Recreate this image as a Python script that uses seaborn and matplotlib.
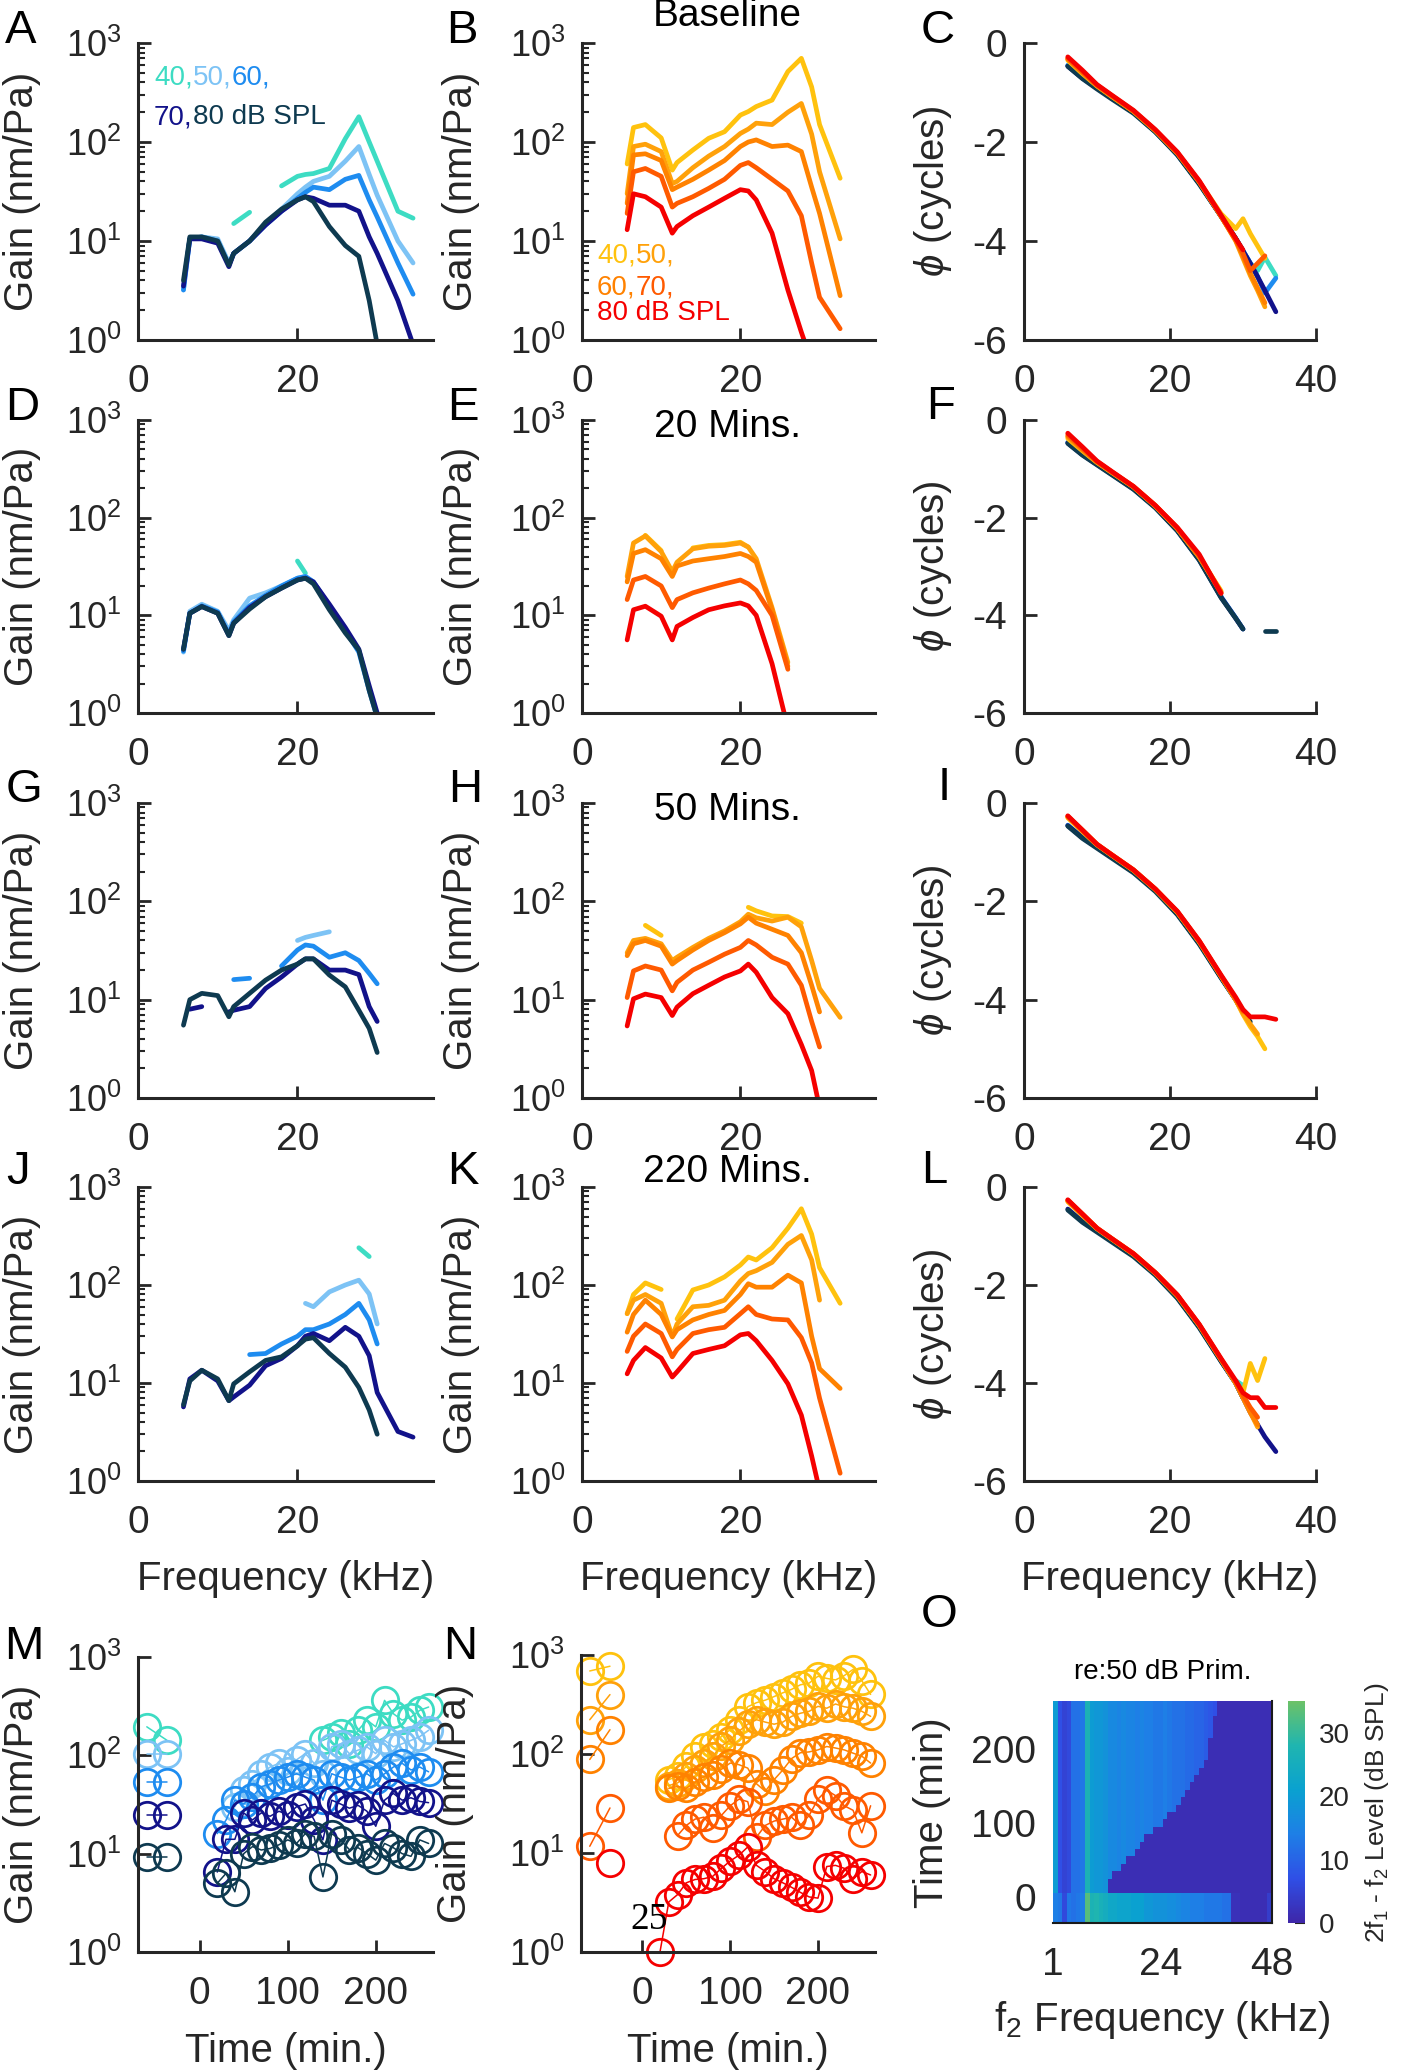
import numpy as np
import pandas as pd
import matplotlib
matplotlib.use("Agg")
import matplotlib.pyplot as plt
import seaborn as sns
from matplotlib.colors import LinearSegmentedColormap
from matplotlib.ticker import FixedLocator, NullFormatter

nan = np.nan

# ---------------------------------------------------------------- data
LEVELS = [40, 50, 60, 70, 80]
BLUES = ["#3ddcc3", "#7dc3f5", "#1e8cf0", "#12128a", "#0e3a50"]
ORANGES = ["#ffc20e", "#ffa10a", "#ff8200", "#ff5a00", "#f50000"]

# frequency grid (kHz) for the gain panels
FREQ = [5.7, 6.5, 8, 10, 11.4, 12, 14, 16, 18, 20, 21, 22, 24, 26, 27.7, 29, 30, 32.6, 34.5]

# A  baseline, low side
A_40 = [nan, nan, nan, nan, nan, 15, 19.5, nan, 36, 45, 47, 48, 54, 108, 180, 100, 64, 20, 17]
A_50 = [3.2, 10.5, 11, 10.5, 6, 7.5, 10, 15, 21, 30, 35, 40, 45, 64, 90, 47, 29, 10, 6]
A_60 = [3.2, 10.5, 11, 10, 5.7, 7.5, 10, 14.5, 20, 27, 31, 35, 33, 42, 46, 26, 17.5, 6, 2.9]
A_70 = [3.5, 10.5, 10.5, 9.5, 5.5, 7.5, 10, 14.5, 20, 26, 28, 27, 23, 23, 20, 11, 7.5, 2.5, 0.9]
A_80 = [4, 11, 11, 10, 5.7, 7.5, 10, 15.5, 21, 26, 28, 25, 14, 9, 7, 2.5, 0.9, nan, nan]
# B  baseline, high side
B_40 = [60, 140, 150, 110, 52, 62, 83, 109, 127, 187, 203, 228, 265, 515, 700, 360, 150, 43, nan]
B_50 = [30, 90, 95, 80, 38, 40, 55, 72, 90, 122, 135, 155, 150, 200, 245, 120, 50, 10.5, nan]
B_60 = [24, 74, 76, 65, 33, 35, 42, 52, 65, 90, 100, 105, 90, 93, 80, 35, 19, 2.8, nan]
B_70 = [19, 50, 54, 45, 22, 24, 28, 34, 42, 58, 62, 55, 42, 32, 18, 6, 2.7, 1.3, nan]
B_80 = [13, 30, 28, 22, 12, 14, 18, 22, 27, 33, 32, 26, 12, 3.2, 1.2, 0.6, nan, nan, nan]
# D  20 min
D_40 = [nan, nan, nan, nan, nan, nan, nan, nan, nan, 36, 27, nan, nan, nan, nan, nan, nan, nan, nan]
D_50 = [4.2, 11, 13, 11, 7, 9, 15, 17, 20, 24, 25, 22, 12.5, 7, nan, nan, nan, nan, nan]
D_60 = [4.3, 10.5, 12.5, 10.8, 6.4, 8.6, 12.5, 16, 20, 24, 25, 22, 12.5, 7, 4.2, 1.7, 0.9, nan, nan]
D_70 = [4.5, 10.5, 12.3, 10.5, 6.2, 8.3, 12, 15.5, 19, 23, 24, 22, 13, 7.5, 4.5, 1.9, 1.0, nan, nan]
D_80 = [4.5, 10.5, 12.3, 10.5, 6.2, 8.3, 11.6, 15.5, 19, 23, 24, 21, 11.4, 6.6, 4.4, 1.7, 0.9, nan, nan]
# E  20 min
E_40 = [nan, nan, 66, 46, nan, nan, 49, 52, 53, 56, 50, nan, nan, nan, nan, nan, nan, nan, nan]
E_50 = [25, 55, 65, 45, 28, 35, 48, 51, 52, 55, 50, 38, 12, 3.3, nan, nan, nan, nan, nan]
E_60 = [22, 43, 47, 38, 25, 32, 36, 38, 40, 43, 40, 35, 11.4, 3.0, nan, nan, nan, nan, nan]
E_70 = [14.5, 23, 25, 20, 12, 14.5, 17, 19, 21, 23, 21, 18, 10, 2.8, nan, nan, nan, nan, nan]
E_80 = [5.6, 11.4, 12.4, 9.8, 5.6, 7.7, 9.5, 11.4, 12.5, 13.4, 12.5, 10, 3.2, 0.7, nan, nan, nan, nan, nan]
# G  50 min
G_40 = [nan] * 19
G_50 = [nan, nan, nan, nan, nan, nan, nan, nan, nan, 40, 43, 45, 49, nan, nan, nan, nan, nan, nan]
G_60 = [nan, nan, nan, nan, nan, 16, 16.5, nan, 22, 32, 36, 35, 27, 30, 25, 18.5, 14.5, nan, nan]
G_70 = [nan, 8, 8.5, nan, 7.5, 7.8, 8.5, 13, 17, 23, 26, 26, 20, 20, 18, 8.5, 6, nan, nan]
G_80 = [5.5, 10, 11.6, 11, 6.7, 8.5, 11.6, 15.8, 20, 23, 26, 26, 17.8, 13.5, 7.8, 5.1, 2.9, nan, nan]
# H  50 min
H_40 = [nan, nan, 57, 45, nan, nan, nan, nan, nan, nan, 87, 80, 71, 70, 60, nan, nan, nan, nan]
H_50 = [30, 40, 42, 37, 25, 27, 34, 42, 50, 62, 74, 68, 63, 69, 55, 25, 13, 6.6, nan]
H_60 = [28, 37, 40, 35, 23, 25, 32, 40, 48, 59, 69, 60, 52, 45, 30, 14, 7.5, nan, nan]
H_70 = [10.5, 19.6, 22, 20, 12.3, 15, 20, 24, 29, 34, 40, 36, 27, 23, 14, 6, 3.3, nan, nan]
H_80 = [5.4, 10.2, 11.4, 10.5, 6.9, 8.4, 11.5, 14, 17, 19.6, 23, 19, 10.5, 7.2, 3.5, 1.9, 0.8, nan, nan]
# J  220 min
J_40 = [nan, nan, nan, nan, nan, nan, nan, nan, nan, nan, nan, nan, nan, nan, 240, 195, nan, nan, nan]
J_50 = [nan, nan, nan, nan, nan, nan, nan, nan, nan, nan, 65, 60, 85, 100, 112, 81, 40, nan, nan]
J_60 = [nan, nan, nan, nan, nan, nan, 19.5, 20, 25, 30, 35, 35, 40, 50, 65, 44, 25, nan, nan]
J_70 = [5.7, 11, 13.5, 10.5, 6.6, 7.2, 9.5, 15, 17.8, 24, 30, 32, 27, 37, 30, 19, 8, 3.2, 2.8]
J_80 = [6, 10.5, 13.5, 11, 6.6, 9.8, 13, 17, 18.5, 24, 28, 29, 20, 14.5, 9, 5.3, 3.0, nan, nan]
# K  220 min
K_40 = [51, 80, 105, 90, nan, 45, 89, 100, 121, 160, 193, 180, 240, 380, 600, 330, 150, 65, nan]
K_50 = [51, 70, 80, 65, 30, 40, 60, 62, 70, 110, 131, 140, 170, 260, 320, 180, 70, nan, nan]
K_60 = [33, 50, 70, 50, 29.5, 35, 44, 50, 55, 80, 103, 95, 95, 126, 105, 30, 14, 8.8, nan]
K_70 = [21, 30, 40, 32, 18.5, 22, 32, 35, 37, 51, 60, 50, 45, 44, 29, 16, 7, 1.2, nan]
K_80 = [12.4, 17, 23, 18, 11.5, 13, 20, 22, 24, 31, 32, 27, 17, 9.8, 4.7, 1.8, 0.8, nan, nan]

# phase grid (kHz) and phase (cycles); *_B = low side (blue), *_O = high side (orange)
P_FREQ = [6, 8, 10, 12, 15, 18, 21, 24, 27, 29, 30, 31, 32, 33, 34.5]
C_B40 = [nan, nan, nan, -1.11, -1.40, -1.79, -2.25, -2.83, -3.5, -3.95, -4.2, -4.45, -4.6, -4.33, -4.7]
C_B50 = [-0.45, -0.7, -0.9, -1.1, -1.4, -1.79, -2.25, -2.83, -3.5, -3.95, -4.2, -4.45, -4.72, nan, nan]
C_B60 = [-0.45, -0.7, -0.9, -1.1, -1.4, -1.79, -2.25, -2.83, -3.5, -3.95, -4.2, -4.45, -4.72, -5.05, -4.75]
C_B70 = [-0.47, -0.71, -0.91, -1.11, -1.40, -1.79, -2.25, -2.83, -3.5, -3.95, -4.2, -4.45, -4.72, -5.0, -5.43]
C_B80 = [-0.47, -0.72, -0.93, -1.13, -1.42, -1.8, -2.26, -2.85, -3.5, -3.95, -4.2, nan, nan, nan, nan]
C_O40 = [-0.35, -0.62, -0.87, -1.08, -1.38, -1.77, -2.22, -2.8, -3.45, -3.75, -3.55, -3.85, -4.1, -4.35, nan]
C_O50 = [-0.33, -0.6, -0.86, -1.07, -1.38, -1.77, -2.22, -2.8, -3.5, -4.0, -4.35, -4.7, -5.0, -5.33, nan]
C_O60 = [-0.32, -0.6, -0.86, -1.07, -1.38, -1.77, -2.22, -2.8, -3.5, -3.98, -4.3, -4.65, -4.95, -5.25, nan]
C_O70 = [-0.31, -0.58, -0.85, -1.06, -1.37, -1.76, -2.22, -2.8, -3.5, -3.98, -4.25, -4.6, -4.45, -4.3, nan]
C_O80 = [-0.28, -0.55, -0.84, -1.05, -1.36, -1.75, -2.2, -2.78, -3.48, -3.95, -4.18, nan, nan, nan, nan]

F_B40 = [nan] * 15
F_B50 = [-0.45, -0.7, -0.9, -1.1, -1.4, -1.78, -2.25, -2.85, -3.6, nan, nan, nan, nan, nan, nan]
F_B60 = [-0.46, -0.7, -0.9, -1.1, -1.4, -1.78, -2.25, -2.85, -3.62, -4.05, -4.28, nan, nan, nan, nan]
F_B70 = [-0.47, -0.71, -0.91, -1.11, -1.41, -1.79, -2.26, -2.86, -3.63, -4.06, -4.28, nan, nan, nan, nan]
F_B80 = [-0.48, -0.72, -0.92, -1.12, -1.42, -1.8, -2.27, -2.87, -3.64, -4.06, -4.28, nan, nan, -4.32, -4.32]
F_O40 = [-0.38, -0.63, -0.87, -1.07, -1.37, -1.76, -2.22, -2.8, -3.5, nan, nan, nan, nan, nan, nan]
F_O50 = [-0.35, -0.62, -0.86, -1.07, -1.37, -1.76, -2.22, -2.8, -3.52, nan, nan, nan, nan, nan, nan]
F_O60 = [-0.33, -0.6, -0.86, -1.06, -1.37, -1.76, -2.22, -2.8, -3.53, nan, nan, nan, nan, nan, nan]
F_O70 = [-0.3, -0.58, -0.85, -1.06, -1.36, -1.75, -2.21, -2.78, -3.55, nan, nan, nan, nan, nan, nan]
F_O80 = [-0.27, -0.55, -0.84, -1.05, -1.36, -1.75, -2.2, -2.75, -3.55, nan, nan, nan, nan, nan, nan]

I_B40 = [nan] * 15
I_B50 = [nan, nan, nan, nan, nan, nan, -2.25, -2.85, nan, nan, nan, nan, nan, nan, nan]
I_B60 = [-0.45, -0.7, -0.9, -1.1, -1.4, -1.78, -2.25, -2.85, -3.55, -4.0, -4.25, nan, nan, nan, nan]
I_B70 = [-0.46, -0.7, -0.9, -1.1, -1.4, -1.78, -2.25, -2.85, -3.55, -4.0, -4.25, nan, nan, nan, nan]
I_B80 = [-0.47, -0.72, -0.92, -1.12, -1.42, -1.8, -2.27, -2.87, -3.56, -4.0, -4.25, -4.45, nan, nan, nan]
I_O40 = [-0.3, -0.58, -0.85, -1.06, -1.37, -1.76, -2.22, -2.82, -3.52, -4.0, -4.3, -4.55, -4.75, -5.0, nan]
I_O50 = [-0.29, -0.57, -0.85, -1.06, -1.37, -1.76, -2.22, -2.82, -3.52, -4.0, -4.28, -4.5, -4.7, nan, nan]
I_O60 = [-0.28, -0.56, -0.84, -1.05, -1.36, -1.75, -2.21, -2.81, -3.52, -4.0, -4.25, nan, nan, nan, nan]
I_O70 = [-0.27, -0.55, -0.84, -1.05, -1.36, -1.75, -2.21, -2.81, -3.52, -3.98, -4.22, nan, nan, nan, nan]
I_O80 = [-0.26, -0.55, -0.84, -1.05, -1.36, -1.75, -2.2, -2.8, -3.5, -3.95, -4.2, -4.35, -4.35, -4.35, -4.4]

L_B40 = [nan, nan, nan, nan, nan, nan, nan, nan, nan, -3.95, -4.05, nan, nan, nan, nan]
L_B50 = [nan, nan, nan, nan, nan, nan, -2.25, -2.85, -3.55, -4.0, -4.3, nan, nan, nan, nan]
L_B60 = [nan, nan, nan, nan, -1.4, -1.78, -2.25, -2.85, -3.55, -4.0, -4.3, nan, nan, nan, nan]
L_B70 = [-0.45, -0.7, -0.9, -1.1, -1.4, -1.78, -2.25, -2.85, -3.55, -4.0, -4.3, -4.6, -4.85, -5.1, -5.4]
L_B80 = [-0.47, -0.72, -0.92, -1.12, -1.42, -1.8, -2.27, -2.87, -3.56, -4.0, -4.3, nan, nan, nan, nan]
L_O40 = [-0.3, -0.58, -0.85, -1.06, -1.37, -1.76, -2.22, -2.82, -3.52, -4.0, -4.2, -3.6, -3.95, -3.5, nan]
L_O50 = [-0.29, -0.57, -0.85, -1.06, -1.37, -1.76, -2.22, -2.82, -3.52, -4.0, -4.3, -4.6, -4.9, nan, nan]
L_O60 = [-0.28, -0.56, -0.84, -1.05, -1.36, -1.75, -2.21, -2.81, -3.52, -4.0, -4.3, -4.6, -4.85, nan, nan]
L_O70 = [-0.27, -0.55, -0.84, -1.05, -1.36, -1.75, -2.21, -2.81, -3.52, -3.98, -4.25, -4.5, -4.7, nan, nan]
L_O80 = [-0.26, -0.55, -0.84, -1.05, -1.36, -1.75, -2.2, -2.8, -3.5, -3.95, -4.2, -4.3, -4.3, -4.5, -4.5]

# gain vs time (M, N)
BASE_TIME = [-60, -37]
TIME = [20, 30, 40, 50, 60, 70, 80, 90, 100, 110, 120, 130, 140,
        150, 160, 170, 180, 190, 200, 210, 220, 230, 240, 250, 260]
M_BASE_40 = [195, 142]
M_BASE_50 = [104, 104]
M_BASE_60 = [54, 54]
M_BASE_70 = [24.7, 24.7]
M_BASE_80 = [9.2, 9.2]
M_40 = [nan, nan, nan, nan, nan, nan, nan, nan, nan, nan, nan, nan, 142,
        155, 167, 130, 180, 228, 195, 362, 265, 228, 245, 287, 310]
M_50 = [nan, nan, 30, 44, 51, 65, 76, 83, 70, 90, 104, 83, 65,
        122, 131, 104, 113, 122, 104, 142, 122, 131, 142, 155, 180]
M_60 = [16, 22, 35, 32, 38, 48, 51, 56, 60, 65, 60, 56, 35,
        65, 60, 56, 60, 65, 56, 65, 76, 83, 71, 76, 68]
M_70 = [6.5, 14, 14, 26, 22, 26, 24, 27, 25, 30, 32, 22, 13.8,
        35, 32, 29, 31, 27, 19, 35, 41, 35, 37, 34, 33]
M_80 = [5.0, 6.3, 4.1, 10, 11.8, 10.9, 11.3, 12.3, 13.8, 12.7, 16, 15, 5.8,
        16, 13.8, 11, 11.5, 10, 8.6, 12.7, 11.5, 10, 9.4, 13.8, 12.7]
N_BASE_40 = [690, 770]
N_BASE_50 = [222, 398]
N_BASE_60 = [88, 176]
N_BASE_70 = [11.7, 28.5]
N_BASE_80 = [nan, 7.9]
N_40 = [nan, 55, 60, 75, 95, 119, 125, 150, 176, 220, 300, 330, 350,
        380, 415, 450, 500, 520, 610, 580, 560, 620, 715, 550, 400]
N_50 = [nan, 48, 51, 60, 70, 81, 95, 120, 139, 170, 200, 222, 210,
        200, 210, 240, 258, 270, 303, 290, 320, 300, 290, 270, 240]
N_60 = [nan, 45, 47, 45, 52, 59, 62, 70, 81, 78, 72, 50, 42,
        55, 69, 90, 103, 105, 110, 119, 115, 110, 102, 95, 81]
N_70 = [nan, nan, 15, 19, 22, 23, 18, 24, 30, 35, 33, 14.5, 19,
        21, 22, 23, 19, 24, 35, 43, 38, 30, 27, 16, 30]
N_80 = [1.0, 3.2, 3.8, 5.0, 5.4, 5.5, 5.8, 7.0, 8.3, 9.5, 11.5, 7.5, 6.5,
        5.5, 5.0, 4.5, 4.0, 3.6, 3.5, 7.3, 7.5, 7.0, 5.5, 6.5, 6.0]

# DPOAE map (O): per f2 column, baseline level, recovered level, recovery time
O_FREQ = list(range(1, 49))
O_TIME = [-30, -20, -10, 0, 10, 20, 30, 40, 50, 60, 70, 80, 90, 100, 110, 120,
          130, 140, 150, 160, 170, 180, 190, 200, 210, 220, 230, 240, 250, 260]
O_BASE = [14, 13, 6, 13, 12, 13, 14, 33, 27, 28, 26, 25,
          23, 23, 22, 22, 22, 21, 21, 21, 19, 19, 18, 18,
          18, 17, 17, 16, 15, 15, 14, 14, 14, 13, 13, 13,
          13, 12, 12, 2, 2, 1.5, 1.5, 1.5, 1.5, 1.5, 1.5, 4]
O_POST = [20, 7, 5, 6, 12, 12, 13, 27, 20, 19, 19, 18,
          16, 16, 15, 16, 15, 15, 14, 15, 14, 14, 13, 13,
          14, 13, 12, 12, 12, 11, 11, 10, 10, 9, 8, 7,
          3, 2, 2, 1.5, 1.5, 1.5, 1.5, 1.5, 1.5, 1.5, 1.5, 2]
O_RECOVER = [0, 0, 0, 0, 0, 0, 0, 0, 0, 0, 0, 0,
             30, 35, 40, 50, 55, 60, 65, 75, 85, 90, 95, 100,
             110, 115, 120, 130, 135, 145, 155, 165, 175, 190, 215, 245,
             270, 270, 270, 270, 270, 270, 270, 270, 270, 270, 270, 270]
O_DARK = 1.5

# ---------------------------------------------------------------- style
sns.set_style("white")
plt.rcParams["font.family"] = ["Liberation Sans", "DejaVu Sans"]
plt.rcParams["mathtext.fontset"] = "custom"
plt.rcParams["mathtext.rm"] = "Liberation Sans"
plt.rcParams["mathtext.it"] = "Liberation Sans:italic"
plt.rcParams["axes.unicode_minus"] = False

W, H = 1402, 2070
INK = "#262626"
fig = plt.figure(figsize=(W / 100, H / 100), dpi=100)


def px_axes(x0, y0, x1, y1):
    return fig.add_axes([x0 / W, 1 - y1 / H, (x1 - x0) / W, (y1 - y0) / H])


def to_long(x, series, tag=""):
    rows = []
    for lev, vals in zip(LEVELS, series):
        seg, gap = 0, True
        for xi, v in zip(x, vals):
            if np.isnan(v):
                gap = True
                continue
            if gap:
                seg += 1
                gap = False
            rows.append((xi, v, lev, f"{tag}{lev}_{seg}"))
    return pd.DataFrame(rows, columns=["x", "y", "level", "seg"])


def draw_lines(ax, df, colors, **kw):
    present = [l for l in LEVELS if l in set(df["level"])]
    pal = {l: colors[LEVELS.index(l)] for l in present}
    sns.lineplot(data=df, x="x", y="y", hue="level", hue_order=present,
                 units="seg", estimator=None, palette=pal, legend=False,
                 ax=ax, **kw)


def base_style(ax):
    for s in ["top", "right"]:
        ax.spines[s].set_visible(False)
    for s in ["left", "bottom"]:
        ax.spines[s].set_linewidth(2.2)
        ax.spines[s].set_color(INK)
    ax.tick_params(which="both", left=True, bottom=True, right=False, top=False)
    ax.tick_params(which="major", direction="in", length=9, width=2,
                   color=INK, labelcolor=INK)
    ax.tick_params(axis="x", labelsize=28, pad=17)
    ax.tick_params(axis="y", labelsize=26, pad=12)
    ax.set_xlabel("")
    ax.set_ylabel("")


def log_gain_axis(ax, minor=True):
    ax.set_yscale("log")
    ax.set_ylim(1, 1000)
    ax.yaxis.set_major_locator(FixedLocator([1, 10, 100, 1000]))
    ax.set_yticklabels([r"$10^0$", r"$10^1$", r"$10^2$", r"$10^3$"])
    if minor:
        ax.yaxis.set_minor_locator(FixedLocator(
            [m * d for d in (1, 10, 100) for m in range(2, 10)]))
        ax.tick_params(axis="y", which="minor", direction="in", length=5,
                       width=1.5, color=INK, left=True)
    else:
        ax.yaxis.set_minor_locator(FixedLocator([]))
    ax.yaxis.set_minor_formatter(NullFormatter())


def ylab(ax, text, xpos):
    lab = ax.set_ylabel(text, fontsize=29, color=INK)
    ax.yaxis.set_label_coords(xpos, 0.5)
    lab.set_va("center")


def xlab(ax, text, ypos):
    ax.set_xlabel(text, fontsize=29, color=INK)
    ax.xaxis.set_label_coords(0.5, ypos)


def gain_panel(box, series, colors, col_x):
    ax = px_axes(*box)
    draw_lines(ax, to_long(FREQ, series), colors, lw=3.4)
    base_style(ax)
    log_gain_axis(ax)
    ax.set_xlim(0, 37)
    ax.set_xticks([0, 20])
    ylab(ax, "Gain (nm/Pa)", col_x)
    return ax


def phase_panel(box, blue, orange):
    ax = px_axes(*box)
    draw_lines(ax, to_long(P_FREQ, blue, "b"), BLUES, lw=3.4)
    draw_lines(ax, to_long(P_FREQ, orange, "o"), ORANGES, lw=3.4)
    base_style(ax)
    ax.tick_params(axis="y", labelsize=28)
    ax.set_xlim(0, 40)
    ax.set_ylim(-6, 0)
    ax.set_xticks([0, 20, 40])
    ax.set_yticks([-6, -4, -2, 0])
    ylab(ax, r"$\phi$ (cycles)", -0.31)
    return ax


def time_panel(box, base, post, colors, col_x):
    ax = px_axes(*box)
    df = pd.concat([to_long(BASE_TIME, base, "b"), to_long(TIME, post, "p")])
    draw_lines(ax, df, colors, lw=1.1, marker="o", markersize=19)
    for ln in ax.lines:
        ln.set_markeredgecolor(ln.get_color())
        ln.set_markerfacecolor("none")
        ln.set_markeredgewidth(2.0)
        ln.set_clip_on(False)
    base_style(ax)
    log_gain_axis(ax, minor=False)
    ax.set_xlim(-70, 265)
    ax.set_xticks([0, 100, 200])
    ylab(ax, "Gain (nm/Pa)", col_x)
    xlab(ax, "Time (min.)", -0.27)
    return ax


# ---------------------------------------------------------------- layout (pixels)
COL1, COL2, COL3 = (138, 433), (582, 875), (1024, 1316)
ROWS = [(43, 340), (420, 713), (803, 1098), (1187, 1481)]
LAB1 = (22 - 138) / 295
LAB2 = (461 - 582) / 293

gain_panel((COL1[0], ROWS[0][0], COL1[1], ROWS[0][1]), [A_40, A_50, A_60, A_70, A_80], BLUES, LAB1)
gain_panel((COL2[0], ROWS[0][0], COL2[1], ROWS[0][1]), [B_40, B_50, B_60, B_70, B_80], ORANGES, LAB2)
phase_panel((COL3[0], ROWS[0][0], COL3[1], ROWS[0][1]),
            [C_B40, C_B50, C_B60, C_B70, C_B80], [C_O40, C_O50, C_O60, C_O70, C_O80])

gain_panel((COL1[0], ROWS[1][0], COL1[1], ROWS[1][1]), [D_40, D_50, D_60, D_70, D_80], BLUES, LAB1)
gain_panel((COL2[0], ROWS[1][0], COL2[1], ROWS[1][1]), [E_40, E_50, E_60, E_70, E_80], ORANGES, LAB2)
phase_panel((COL3[0], ROWS[1][0], COL3[1], ROWS[1][1]),
            [F_B40, F_B50, F_B60, F_B70, F_B80], [F_O40, F_O50, F_O60, F_O70, F_O80])

gain_panel((COL1[0], ROWS[2][0], COL1[1], ROWS[2][1]), [G_40, G_50, G_60, G_70, G_80], BLUES, LAB1)
gain_panel((COL2[0], ROWS[2][0], COL2[1], ROWS[2][1]), [H_40, H_50, H_60, H_70, H_80], ORANGES, LAB2)
phase_panel((COL3[0], ROWS[2][0], COL3[1], ROWS[2][1]),
            [I_B40, I_B50, I_B60, I_B70, I_B80], [I_O40, I_O50, I_O60, I_O70, I_O80])

axJ = gain_panel((COL1[0], ROWS[3][0], COL1[1], ROWS[3][1]), [J_40, J_50, J_60, J_70, J_80], BLUES, LAB1)
axK = gain_panel((COL2[0], ROWS[3][0], COL2[1], ROWS[3][1]), [K_40, K_50, K_60, K_70, K_80], ORANGES, LAB2)
axL = phase_panel((COL3[0], ROWS[3][0], COL3[1], ROWS[3][1]),
                  [L_B40, L_B50, L_B60, L_B70, L_B80], [L_O40, L_O50, L_O60, L_O70, L_O80])
for a in (axJ, axK, axL):
    xlab(a, "Frequency (kHz)", -0.27)

axM = time_panel((138, 1657, 433, 1952), [M_BASE_40, M_BASE_50, M_BASE_60, M_BASE_70, M_BASE_80],
                 [M_40, M_50, M_60, M_70, M_80], BLUES, LAB1)
axN = time_panel((581, 1655, 875, 1952), [N_BASE_40, N_BASE_50, N_BASE_60, N_BASE_70, N_BASE_80],
                 [N_40, N_50, N_60, N_70, N_80], ORANGES, (455 - 581) / 294)
axN.text(8, 2.1, "25", family=["Liberation Serif", "DejaVu Serif"], fontsize=27,
         ha="center", va="center", color="black")

# ---------------------------------------------------------------- heatmap O
parula = LinearSegmentedColormap.from_list(
    "parula_part", ["#3e26a8", "#2f4fe6", "#1e7fe6", "#0aa1d0", "#1fb5b0", "#6cc268"])
grid = []
for t in O_TIME[::-1]:
    row = []
    for b, p, r in zip(O_BASE, O_POST, O_RECOVER):
        if t <= 0:
            row.append(b)
        elif t < r:
            row.append(O_DARK)
        else:
            row.append(p)
    grid.append(row)
o_df = pd.DataFrame(grid, index=O_TIME[::-1], columns=O_FREQ)

axO = px_axes(1053, 1701, 1272, 1923)
cax = px_axes(1288, 1701, 1305, 1923)
sns.heatmap(o_df, ax=axO, cbar_ax=cax, cmap=parula, vmin=0, vmax=35,
            xticklabels=False, yticklabels=False)
axO.set_yticks([(O_TIME[-1] - t) / 10 + 0.5 for t in (0, 100, 200)])
axO.set_yticklabels(["0", "100", "200"])
axO.set_xticks([0, 23.5, 48])
axO.set_xticklabels(["1", "24", "48"])
axO.tick_params(axis="y", length=0, labelsize=28, pad=12, labelcolor=INK, rotation=0)
axO.tick_params(axis="x", length=0, labelsize=28, pad=17, labelcolor=INK)
for s in ["bottom", "right"]:
    axO.spines[s].set_visible(True)
    axO.spines[s].set_color("#1a1a1a")
    axO.spines[s].set_linewidth(1.5)
axO.set_xlabel("")
axO.set_ylabel("")
axO.set_title("re:50 dB Prim.", fontsize=20, color="black", pad=16)
cbar = axO.collections[0].colorbar
cbar.set_ticks([0, 10, 20, 30])
cbar.outline.set_visible(False)
cbar.ax.tick_params(direction="in", length=7, width=1.5, color=INK, right=True,
                    labelsize=20, labelcolor=INK, pad=10)
fig.text(932 / W, 1 - 1813 / H, "Time (min)", rotation=90, fontsize=29, color=INK,
         ha="center", va="center")
fig.text(1162 / W, 1 - 2020 / H, r"f$_2$ Frequency (kHz)", fontsize=29, color=INK,
         ha="center", va="center")
fig.text(1377 / W, 1 - 1813 / H, r"2f$_1$ - f$_2$ Level (dB SPL)", rotation=90,
         fontsize=19, color=INK, ha="center", va="center")

# ---------------------------------------------------------------- titles and letters
for txt, y in [("Baseline", 16), ("20 Mins.", 427), ("50 Mins.", 810), ("220 Mins.", 1172)]:
    fig.text(727 / W, 1 - y / H, txt, fontsize=28, color="black", ha="center", va="center")

LETTERS = [("A", 21, 31), ("B", 462, 31), ("C", 938, 31),
           ("D", 22, 408), ("E", 463, 408), ("F", 941, 407),
           ("G", 24, 790), ("H", 465, 790), ("I", 944, 788),
           ("J", 18, 1172), ("K", 463, 1172), ("L", 934, 1171),
           ("M", 24, 1647), ("N", 460, 1647), ("O", 939, 1615)]
for ch, x, y in LETTERS:
    fig.text(x / W, 1 - y / H, ch, fontsize=34, color="black", ha="center", va="center")

# ---------------------------------------------------------------- coloured level notes
renderer = fig.canvas.get_renderer()


def colour_line(x, y, parts, size=20):
    for s, c in parts:
        t = fig.text(x / W, 1 - y / H, s, color=c, fontsize=size, va="center", ha="left")
        x += t.get_window_extent(renderer).width


colour_line(154, 78, [("40,", BLUES[0]), ("50,", BLUES[1]), ("60,", BLUES[2])])
colour_line(154, 117, [("70,", BLUES[3]), ("80 dB SPL", BLUES[4])])
colour_line(597, 255, [("40,", ORANGES[0]), ("50,", ORANGES[1])])
colour_line(597, 287, [("60,", ORANGES[2]), ("70,", ORANGES[3])])
colour_line(597, 313, [("80 dB SPL", ORANGES[4])])

fig.savefig("out.png", dpi=100, facecolor="white")
